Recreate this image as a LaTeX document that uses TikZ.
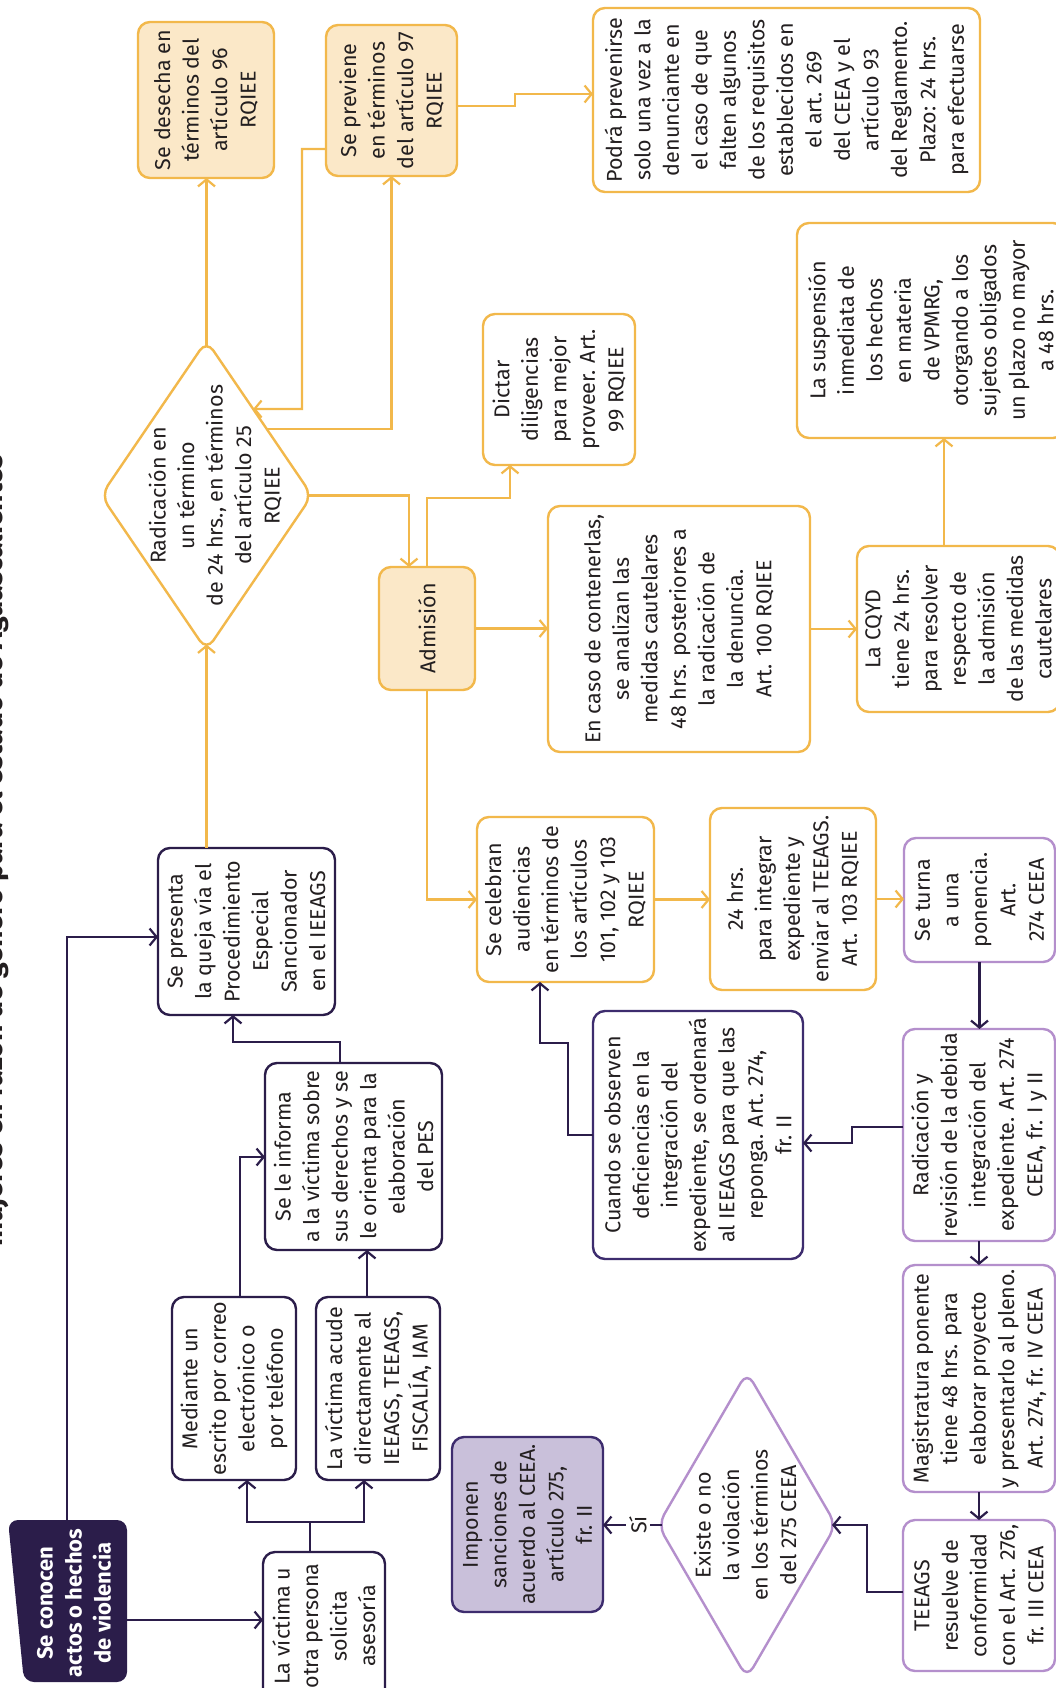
\documentclass[tikz,border=0pt]{standalone}
\usepackage{fontspec}
\setmainfont{Fira Sans}
\usetikzlibrary{arrows.meta,shapes.geometric,calc}
\definecolor{dpurple}{HTML}{2B1D4A}
\definecolor{vpurple}{HTML}{3D2C6E}
\definecolor{lpurple}{HTML}{B48FCC}
\definecolor{imfill}{HTML}{C9C0DA}
\definecolor{orng}{HTML}{F2B84B}
\definecolor{ofill}{HTML}{FBE8C8}
\definecolor{txt}{HTML}{231F20}
\newcommand\mybox[7]{\node[#2,rotate=90,minimum width={(#6-#4)*1pt},minimum height={(#5-#3)*1pt}] (#1) at ({(#3+#5)/2},{(#4+#6)/2}) {#7};}
\tikzset{
 base/.style={inner sep=0pt,outer sep=0pt,align=center,font=\fontsize{21.5}{28.5}\selectfont,text=txt,line width=2.4pt,rounded corners=12pt},
 obox/.style={base,draw=orng,fill=white},
 ofbox/.style={base,draw=orng,fill=ofill},
 pbox/.style={base,draw=lpurple,fill=white},
 dbox/.style={base,draw=dpurple,fill=white},
 vbox/.style={base,draw=vpurple,fill=white},
 imbox/.style={base,draw=vpurple,fill=imfill},
 arr/.style={-{Straight Barb[length=7pt,width=17pt]}},
 oline/.style={draw=orng,line width=2.2pt},
 dline/.style={draw=dpurple,line width=2.2pt},
}
\begin{document}
\begin{tikzpicture}[x=1pt,y=-1pt]
\clip (0,0) rectangle (1056,1688);
\fill[white] (0,0) rectangle (1056,1688);
% title
\node[rotate=90,anchor=base west,inner sep=0pt,text=txt,font=\bfseries\fontsize{28.5}{32}\selectfont] (title) at (2,1247) {mujeres en razón de género para el estado de Aguascalientes};
% start
\fill[dpurple,rounded corners=10pt] (8,1520) -- (127,1520) -- (127,1682) -- (24,1682) -- cycle;
\node[rotate=90,inner sep=0pt,align=center,text=white,font=\bfseries\fontsize{22}{29}\selectfont] (A) at (74,1603) {Se conocen\\actos o hechos\\de violencia};
\coordinate (Atop) at (67,1520);
\coordinate (Aright) at (127,1620);
% boxes
\mybox{B}{dbox}{263}{1552}{385}{1700}{La víctima u\\otra persona\\solicita\\asesoría}
\mybox{M}{dbox}{172}{1297}{296}{1480}{Mediante un\\escrito por correo\\electrónico o\\por teléfono}
\mybox{V}{dbox}{316}{1297}{440}{1480}{La víctima acude\\directamente al\\IEEAGS, TEEAGS,\\FISCALÍA, IAM}
\mybox{SI}{dbox}{265}{1063}{442}{1250}{Se le informa\\a la víctima sobre\\sus derechos y se\\le orienta para la\\elaboración\\del PES}
\mybox{SP}{dbox}{158}{848}{335}{1015}{Se presenta\\la queja vía el\\Procedimiento\\Especial\\Sancionador\\en el IEEAGS}
\mybox{IM}{imbox}{452}{1437}{603}{1612}{Imponen\\sanciones de\\acuerdo al CEEA.\\artículo 275,\\fr. II}
\mybox{SD}{ofbox}{138}{22}{274}{178}{Se desecha en\\términos del\\artículo 96\\RQIEE}
\mybox{PV}{ofbox}{326}{25}{457}{176}{Se previene\\en términos\\del artículo 97\\RQIEE}
\mybox{PD}{obox}{593}{8}{980}{192}{Podrá prevenirse\\solo una vez a la\\denunciante en\\el caso de que\\falten algunos\\de los requisitos\\establecidos en\\el art. 269\\del CEEA y el\\artículo 93\\del Reglamento.\\Plazo: 24 hrs.\\para efectuarse}
\mybox{DI}{obox}{483}{314}{635}{465}{Dictar\\diligencias\\para mejor\\proveer. Art.\\99 RQIEE}
\mybox{SU}{obox}{797}{223}{1065}{438}{La suspensión\\inmediata de\\los hechos\\en materia\\de VPMRG,\\otorgando a los\\sujetos obligados\\un plazo no mayor\\a 48 hrs.}
\mybox{AD}{ofbox}{379}{567}{475}{690}{Admisión}
\mybox{EC}{obox}{548}{506}{810}{752}{En caso de contenerlas,\\se analizan las\\medidas cautelares\\48 hrs. posteriores a\\la radicación de\\la denuncia.\\Art. 100 RQIEE}
\mybox{CQ}{obox}{857}{546}{1060}{712}{La CQYD\\tiene 24 hrs.\\para resolver\\respecto de\\la admisión\\de las medidas\\cautelares}
\mybox{SC}{obox}{477}{817}{654}{982}{Se celebran\\audiencias\\en términos de\\los artículos\\101, 102 y 103\\RQIEE}
\mybox{H24}{obox}{710}{808}{876}{990}{24 hrs.\\para integrar\\expediente y\\enviar al TEEAGS.\\Art. 103 RQIEE}
\mybox{ST}{pbox}{904}{838}{1055}{962}{Se turna\\a una\\ponencia.\\Art.\\274 CEEA}
\mybox{RR}{pbox}{903}{1029}{1055}{1241}{Radicación y\\revisión de la debida\\integración del\\expediente. Art. 274\\CEEA, fr. I y II}
\mybox{MG}{pbox}{903}{1265}{1055}{1492}{Magistratura ponente\\tiene 48 hrs. para\\elaborar proyecto\\y presentarlo al pleno.\\Art. 274, fr. IV CEEA}
\mybox{TE}{pbox}{903}{1520}{1055}{1671}{TEEAGS\\resuelve de\\conformidad\\con el Art. 276,\\fr. III CEEA}
\mybox{CU}{vbox}{593}{1011}{803}{1259}{Cuando se observen\\deficiencias en la\\integración del\\expediente, se ordenará\\al IEEAGS para que las\\reponga. Art. 274,\\fr. II}
% diamonds
\node[diamond,draw=orng,line width=2.4pt,rounded corners=12pt,fill=white,inner sep=0pt,outer sep=0pt,minimum width=211pt,minimum height=310pt] (D1) at (206.5,495.5) {};
\node[rotate=90,base] (D1t) at (215,495.5) {Radicación en\\un término\\de 24 hrs., en términos\\del artículo 25\\RQIEE};
\node[diamond,draw=lpurple,line width=2.4pt,rounded corners=12pt,fill=white,inner sep=0pt,outer sep=0pt,minimum width=178pt,minimum height=306pt] (D2) at (747,1525) {};
\node[rotate=90,base] (D2t) at (745,1525) {Existe o no\\la violación\\en los términos\\del 275 CEEA};
% connectors (dark)
\draw[dline,arr] (Aright) -- (B.north |- Aright);
\draw[dline,arr] (Atop) -- (67,937) -- (SP.north |- 0,937);
\coordinate (Bsplit) at (310,1522);
\draw[dline] (B.east -| Bsplit) -- (Bsplit);
\draw[dline,arr] (Bsplit) -| (M.west -| 247,0);
\draw[dline,arr] (Bsplit) -| (V.west -| 364,0);
\draw[dline,arr] (M.east -| 240,0) |- (SI.north |- 0,1157);
\draw[dline,arr] (V.east -| 367,0) -- (SI.west -| 367,0);
\draw[dline,arr] (SI.east -| 340,0) |- (233,1042) -- (SP.west -| 233,0);
% orange
\draw[oline,arr] (D1.south |- SP.east) -- ($(D1.south)+(0,-6)$);
\draw[oline,arr] ($(D1.north)+(0,6)$) -- (D1.north |- SD.west);
\draw[oline,arr] ($(D1.north)!0.571!(D1.east)$) -| (PV.west);
\draw[oline,arr] (PV.north |- 0,149) -| (302,409) -- ($(D1.north)!0.442!(D1.east)$);
\draw[oline,arr] (PV.south |- 0,106) -- (515,106) -- (515,94) -- (PD.north |- 0,94);
\draw[oline,arr] ($(D1.east)+(-4,0)$) -| (AD.east -| 409,0);
\draw[oline,arr] (AD.east -| 427,0) -- (427,498) -| (DI.west -| 510,0);
\draw[oline,arr] (AD.south) -- (EC.north |- AD.south);
\draw[oline,arr] (EC.south) -- (CQ.north |- EC.south);
\draw[oline,arr] (CQ.east -| 944,0) -- (SU.west -| 944,0);
\draw[oline,arr] (AD.west) |- (SC.north);
\draw[oline,arr] (SC.south) -- (H24.north |- SC.south);
\draw[oline,arr] (H24.south) -- (ST.north |- H24.south);
% lower dark
\draw[dline,arr] (ST.west) -- (ST.west |- RR.east);
\draw[dline,arr] (RR.north |- 0,1127) -| (852,1143) -- (CU.south |- 0,1143);
\draw[dline,arr] (CU.north |- 0,1135) -| (568,1043) -| (SC.west -| 540,0);
\draw[dline,arr] (RR.west) -- (RR.west |- MG.east);
\draw[dline,arr] (MG.west) -- (MG.west |- TE.east);
\draw[dline,arr] (TE.north |- 0,1592) -| (867,1525) -- ($(D2.east)+(-4,0)$);
\draw[dline,arr] ($(D2.west)+(4,0)$) -- (IM.south |- D2.west);
\node[rotate=90,fill=white,inner sep=3pt,font=\fontsize{21.5}{25}\selectfont,text=txt] (si) at (638,1525) {Sí};
\end{tikzpicture}
\end{document}
